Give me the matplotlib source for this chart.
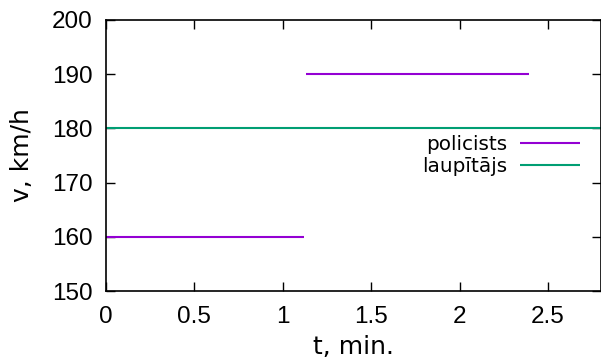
import numpy as np
import matplotlib
matplotlib.use("Agg")
import matplotlib.pyplot as plt

# Data
police_t = [0.0, 1.12, np.nan, 1.13, 2.39]
police_v = [160, 160, np.nan, 190, 190]
robber_t = [0.0, 2.8]
robber_v = [180, 180]
xticks = [0, 0.5, 1, 1.5, 2, 2.5]
xticklabels = ["0", "0.5", "1", "1.5", "2", "2.5"]
yticks = [150, 160, 170, 180, 190, 200]
yticklabels = ["150", "160", "170", "180", "190", "200"]

fig = plt.figure(figsize=(6.01, 3.62), dpi=100)
ax = fig.add_axes([106/601, 1-291/362, 1-106/601, (291-20)/362])

ax.plot(police_t, police_v, color="#9400d3", lw=1.5, label="policists", solid_capstyle="butt")
ax.plot(robber_t, robber_v, color="#009e73", lw=1.5, label="laupītājs", solid_capstyle="butt")

ax.set_xlim(0, 2.8)
ax.set_ylim(150, 200)
ax.set_xticks(xticks)
ax.set_xticklabels(xticklabels, fontfamily="Liberation Sans", fontsize=17.5)
ax.set_yticks(yticks)
ax.set_yticklabels(yticklabels, fontfamily="Liberation Sans", fontsize=17.5)
ax.tick_params(direction="in", length=6.5, width=1.0, top=True, right=True)
ax.tick_params(axis="x", pad=11)
ax.tick_params(axis="y", pad=9.5)
for s in ax.spines.values():
    s.set_linewidth(1.2)

ax.set_xlabel("t, min.", fontfamily="DejaVu Sans", fontsize=18, labelpad=4.5)
ax.set_ylabel("v, km/h", fontfamily="DejaVu Sans", fontsize=18, labelpad=13)

leg = fig.legend(loc="upper right", bbox_to_anchor=(580/601, 1-135/362),
                 frameon=False, markerfirst=False, handlelength=3.0,
                 handletextpad=0.65, labelspacing=0.15, borderpad=0,
                 borderaxespad=0, prop={"family": "DejaVu Sans", "size": 14.4})

fig.savefig("out.png", dpi=100)
